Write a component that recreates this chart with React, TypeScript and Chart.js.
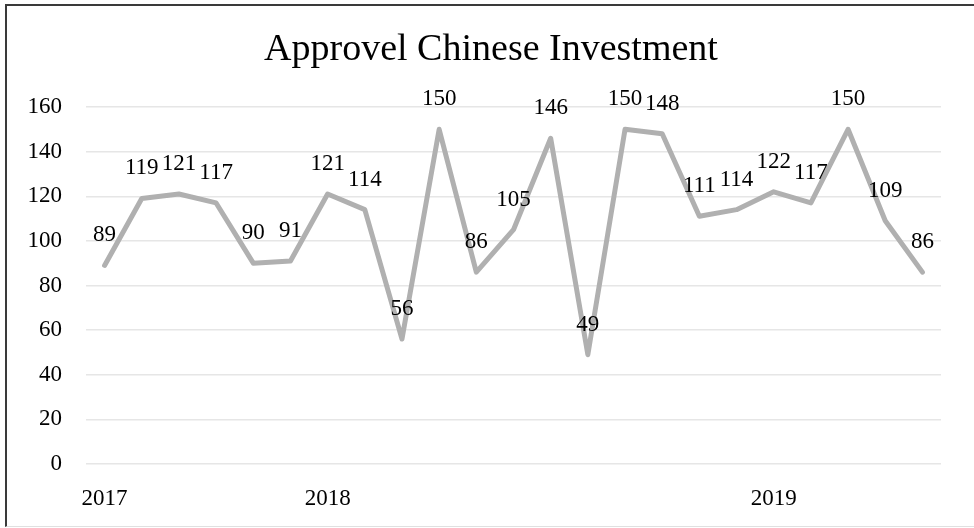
import React, { useEffect, useRef } from "react";
import { Chart, registerables } from "chart.js";

Chart.register(...registerables);

const categories: string[] = [
  "2017", "", "", "", "", "",
  "2018", "", "", "", "", "", "", "", "", "", "", "",
  "2019", "", "", "", "",
];
const values: number[] = [
  89, 119, 121, 117, 90, 91, 121, 114, 56, 150, 86, 105, 146, 49, 150, 148,
  111, 114, 122, 117, 150, 109, 86,
];
const titleText = "Approvel Chinese Investment";
const yMin = 0;
const yMax = 160;
const yStep = 20;

const FONT = "'Liberation Serif', 'Times New Roman', serif";

const labelsAndTitle = {
  id: "labelsAndTitle",
  afterDatasetsDraw(chart: any) {
    const ctx = chart.ctx as CanvasRenderingContext2D;
    const meta = chart.getDatasetMeta(0);
    const data = chart.data.datasets[0].data as number[];
    ctx.save();
    ctx.fillStyle = "#000";
    ctx.font = `23px ${FONT}`;
    ctx.textAlign = "center";
    ctx.textBaseline = "alphabetic";
    meta.data.forEach((el: any, i: number) => {
      ctx.fillText(String(data[i]), el.x, el.y - 24);
    });
    ctx.font = `38px ${FONT}`;
    ctx.textBaseline = "middle";
    ctx.fillText(titleText, 491, 50);
    ctx.restore();
  },
};

export default function App() {
  const ref = useRef<HTMLCanvasElement | null>(null);
  useEffect(() => {
    if (!ref.current) return;
    const chart = new Chart(ref.current, {
      type: "line",
      data: {
        labels: categories,
        datasets: [
          {
            data: values,
            borderColor: "#b0b0b0",
            backgroundColor: "#b0b0b0",
            borderWidth: 5,
            borderJoinStyle: "round",
            borderCapStyle: "round",
            pointRadius: 0,
            tension: 0,
          },
        ],
      },
      options: {
        responsive: false,
        animation: false,
        layout: { padding: { top: 107, left: 0, right: 33, bottom: 0 } },
        plugins: {
          legend: { display: false },
          title: { display: false },
          tooltip: { enabled: false },
        },
        scales: {
          x: {
            offset: true,
            grid: { display: false },
            border: { display: false },
            ticks: {
              autoSkip: false,
              maxRotation: 0,
              minRotation: 0,
              padding: 13,
              color: "#000",
              font: { family: FONT, size: 23 },
            },
            afterFit(scale: any) {
              scale.height = 64;
            },
          },
          y: {
            min: yMin,
            max: yMax,
            grid: { color: "#e6e6e6", lineWidth: 1.5, drawTicks: false },
            border: { display: false },
            ticks: {
              stepSize: yStep,
              padding: 24,
              color: "#000",
              font: { family: FONT, size: 23 },
            },
            afterFit(scale: any) {
              scale.width = 86;
            },
          },
        },
      },
      plugins: [labelsAndTitle],
    });
    return () => chart.destroy();
  }, []);

  return (
    <>
      <div
        style={{
          position: "fixed",
          left: 5,
          top: 4,
          width: 990,
          height: 523,
          borderLeft: "2px solid #3a3a3a",
          borderTop: "2px solid #3a3a3a",
          borderBottom: "1px solid #e0e0e0",
          boxSizing: "border-box",
          background: "#fff",
        }}
      />
      <canvas
        ref={ref}
        width={974}
        height={528}
        style={{ position: "fixed", left: 0, top: 0, width: 974, height: 528 }}
      />
    </>
  );
}
